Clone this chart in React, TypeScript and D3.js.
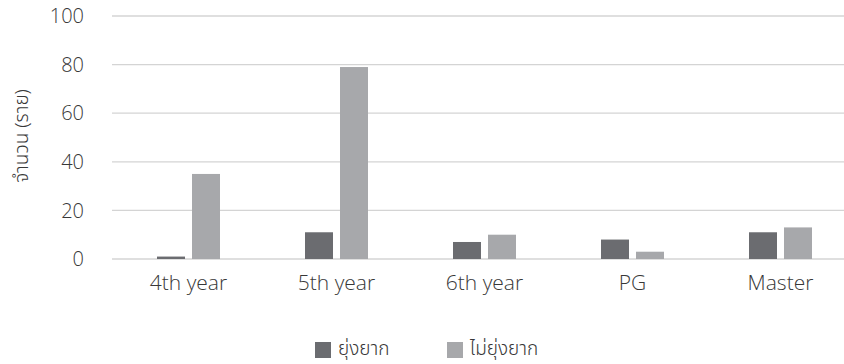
import React, { useEffect } from "react";
import * as d3 from "d3";

const categories = ["4th year", "5th year", "6th year", "PG", "Master"];
const seriesNames = ["ยุ่งยาก", "ไม่ยุ่งยาก"];
const difficult = [1, 11, 7, 8, 11];
const notDifficult = [35, 79, 10, 3, 13];
const yTicks = [0, 20, 40, 60, 80, 100];
const yTitle = "จำนวน (ราย)";

const W = 844;
const H = 364;
const colors = ["#6b6c70", "#a7a8ab"];
const textColor = "#383838";
const font = "'Open Sans', 'Noto Sans', sans-serif";
const thaiFont = "'Noto Sans Thai', 'Noto Sans Thai Looped', Loma, Garuda, Waree, Kinnari, 'Tlwg Typo', 'Open Sans', sans-serif";

export default function App() {
  useEffect(() => {
    document.body.style.margin = "0";
  }, []);

  const y = d3.scaleLinear().domain([0, 100]).range([259, 16]);
  const x0 = d3.scaleBand<string>().domain(categories).range([114.5, 854.5]).paddingInner(0).paddingOuter(0);
  const x1 = d3.scaleBand<string>().domain(seriesNames).range([0, 63]).paddingInner(0.2);
  const groupOffset = (x0.bandwidth() - 63) / 2;
  const series = [difficult, notDifficult];

  return (
    <svg width={W} height={H} style={{ display: "block", background: "#fff" }} fontFamily={font}>
      {yTicks.map((t) => (
        <g key={t}>
          <line x1={112} x2={W} y1={y(t)} y2={y(t)} stroke="#d4d4d4" strokeWidth={1.3} />
          <text x={84} y={y(t)} dy="0.36em" textAnchor="end" fontSize={20} fontWeight={300} fill={textColor}>
            {t}
          </text>
        </g>
      ))}
      {categories.map((c, i) => (
        <g key={c} transform={`translate(${(x0(c) ?? 0) + groupOffset},0)`}>
          {seriesNames.map((s, j) => (
            <rect
              key={s}
              x={x1(s)}
              y={y(series[j][i])}
              width={x1.bandwidth()}
              height={y(0) - y(series[j][i])}
              fill={colors[j]}
            />
          ))}
          <text x={31.5} y={290} textAnchor="middle" fontSize={21} fontWeight={300} fill={textColor}>
            {c}
          </text>
        </g>
      ))}
      <text
        transform="translate(28,136) rotate(-90)"
        textAnchor="middle"
        fontSize={19}
        fontWeight={300}
        fontFamily={thaiFont}
        fill={textColor}
      >
        {yTitle}
      </text>
      {seriesNames.map((s, j) => {
        const lx = j === 0 ? 315 : 447;
        return (
          <g key={s}>
            <rect x={lx} y={342} width={16} height={16} fill={colors[j]} />
            <text x={lx + 23} y={355} fontSize={19} fontWeight={300} fontFamily={thaiFont} fill={textColor}>
              {s}
            </text>
          </g>
        );
      })}
    </svg>
  );
}
